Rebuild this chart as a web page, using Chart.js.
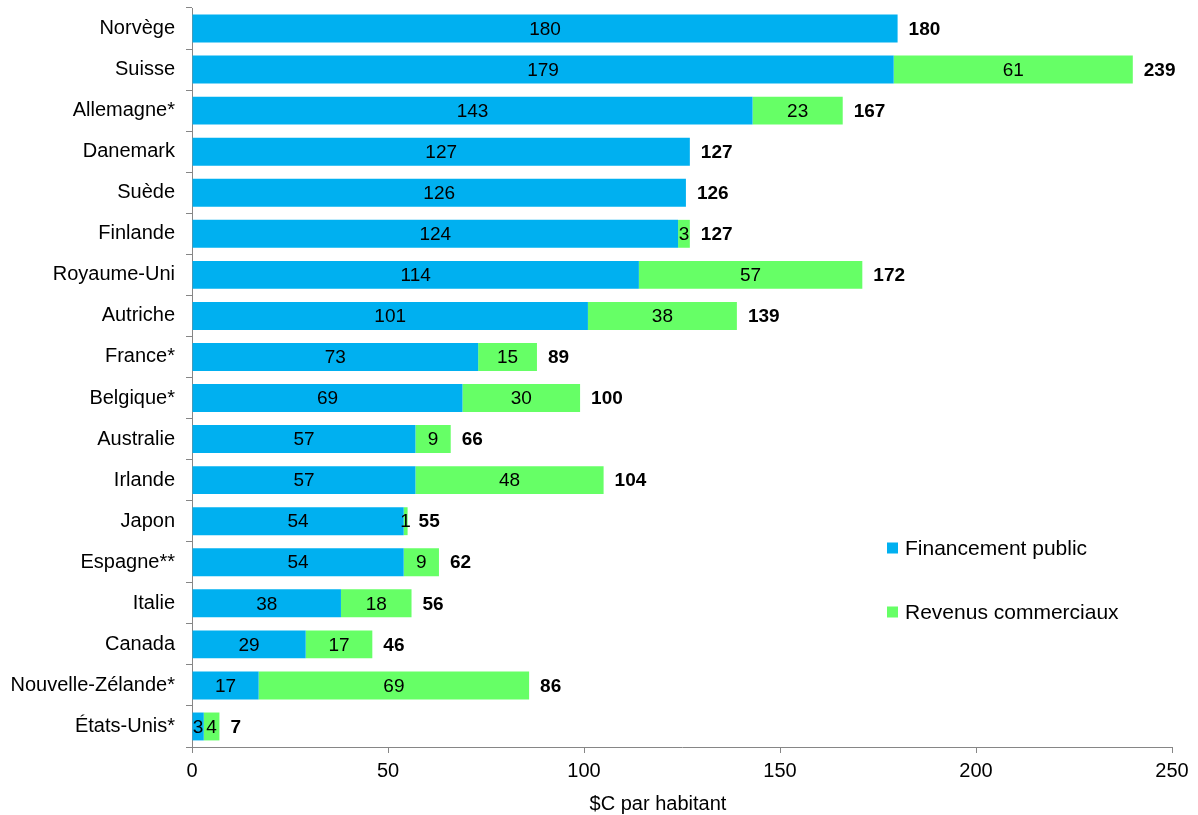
<!DOCTYPE html>
<html>
<head>
<meta charset="utf-8">
<script src="https://cdn.jsdelivr.net/npm/chart.js@4"></script>
<style>
html,body{margin:0;padding:0;background:#fff;}
#wrap{width:1198px;height:815px;position:relative;}
</style>
</head>
<body>
<div id="wrap"><canvas id="c" width="1198" height="815"></canvas></div>
<script>
const categories = ["Norvège","Suisse","Allemagne*","Danemark","Suède","Finlande","Royaume-Uni","Autriche","France*","Belgique*","Australie","Irlande","Japon","Espagne**","Italie","Canada","Nouvelle-Zélande*","États-Unis*"];
const publicFunding = [180,179,143,127,126,124,114,101,73,69,57,57,54,54,38,29,17,3];
const commercialRevenue = [0,61,23,0,0,3,57,38,15,30,9,48,1,9,18,17,69,4];
const totals = [180,239,167,127,126,127,172,139,89,100,66,104,55,62,56,46,86,7];
const xTicks = [0,50,100,150,200,250];
const seriesNames = ["Financement public","Revenus commerciaux"];
const axisTitle = "$C par habitant";
const colors = ["#00B0F0","#66FF66"];
const FONT = "'Liberation Sans', Arial, sans-serif";

const labelPlugin = {
  id: 'labels',
  afterDatasetsDraw(chart) {
    const ctx = chart.ctx;
    ctx.save();
    ctx.textBaseline = 'middle';
    ctx.textAlign = 'center';
    ctx.fillStyle = '#000';
    ctx.font = "19px " + FONT;
    chart.data.datasets.forEach((ds, di) => {
      const meta = chart.getDatasetMeta(di);
      meta.data.forEach((bar, i) => {
        const v = ds.data[i];
        if (!v) return;
        const x = (bar.x + bar.base) / 2;
        ctx.fillText(String(v), x, bar.y + 1);
      });
    });
    ctx.font = "bold 19px " + FONT;
    ctx.textAlign = 'left';
    const xs = chart.scales.x;
    totals.forEach((t, i) => {
      const end = publicFunding[i] + commercialRevenue[i];
      const x = xs.getPixelForValue(end) + 11;
      const y = chart.getDatasetMeta(0).data[i].y + 1;
      ctx.fillText(String(t), x, y);
    });
    // legend
    ctx.font = "21px " + FONT;
    const lx = 887, ly = [548, 612];
    seriesNames.forEach((n, k) => {
      ctx.fillStyle = colors[k];
      ctx.fillRect(lx, ly[k] - 5.5, 11, 11);
      ctx.fillStyle = '#000';
      ctx.fillText(n, lx + 18, ly[k] + 1);
    });
    // axis title
    ctx.font = "20px " + FONT;
    ctx.textAlign = 'center';
    ctx.fillText(axisTitle, 658, 804);
    ctx.restore();
  }
};

new Chart(document.getElementById('c'), {
  type: 'bar',
  data: {
    labels: categories,
    datasets: [
      { label: seriesNames[0], data: publicFunding, backgroundColor: colors[0], borderWidth: 0, categoryPercentage: 1, barPercentage: 0.68 },
      { label: seriesNames[1], data: commercialRevenue, backgroundColor: colors[1], borderWidth: 0, categoryPercentage: 1, barPercentage: 0.68 }
    ]
  },
  options: {
    indexAxis: 'y',
    responsive: false,
    animation: false,
    devicePixelRatio: 1,
    layout: { padding: { top: 8, right: 26, bottom: 0, left: 0 } },
    plugins: { legend: { display: false }, tooltip: { enabled: false } },
    scales: {
      x: {
        stacked: true,
        min: 0, max: 250,
        afterBuildTicks(s) { s.ticks = xTicks.map(v => ({ value: v })); },
        afterFit(s) { s.height = 68; },
        grid: { drawOnChartArea: false, drawTicks: true, tickLength: 6, color: '#868686' },
        border: { color: '#868686', width: 1 },
        ticks: { color: '#000', font: { family: FONT, size: 20 }, padding: 6, maxRotation: 0 },
        title: { display: false, text: axisTitle }
      },
      y: {
        stacked: true,
        afterFit(s) { s.width = 192; s.paddingTop = 0; s.paddingBottom = 0; },
        grid: { drawOnChartArea: false, drawTicks: true, tickLength: 6, color: '#868686', offset: true },
        border: { color: '#868686', width: 1 },
        ticks: { color: '#000', font: { family: FONT, size: 20 }, padding: 11 }
      }
    }
  },
  plugins: [labelPlugin]
});
</script>
</body>
</html>
